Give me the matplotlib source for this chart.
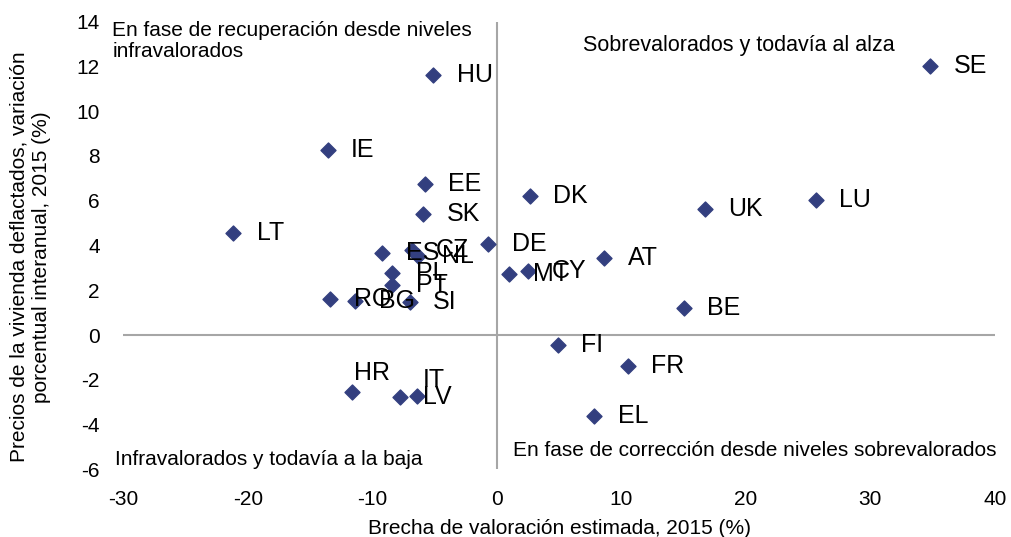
import matplotlib.pyplot as plt

plt.rcParams['font.family'] = ['Liberation Sans', 'DejaVu Sans']
plt.rcParams['axes.unicode_minus'] = False

countries = ['SE', 'HU', 'IE', 'EE', 'DK', 'UK', 'LU', 'SK', 'LT', 'DE', 'ES', 'CZ', 'NL',
             'PL', 'PT', 'RO', 'BG', 'SI', 'MT', 'CY', 'AT', 'BE', 'FI', 'FR', 'EL', 'HR',
             'LV', 'IT']
gap = [34.8, -5.1, -13.6, -5.8, 2.65, 16.7, 25.6, -5.9, -21.2, -0.7, -9.2, -6.8, -6.3,
       -8.4, -8.4, -13.4, -11.4, -7.0, 1.0, 2.5, 8.6, 15.0, 4.9, 10.5, 7.8, -11.6,
       -7.8, -6.4]
prices = [12.0, 11.6, 8.25, 6.77, 6.23, 5.65, 6.05, 5.43, 4.57, 4.08, 3.68, 3.81, 3.54,
          2.78, 2.24, 1.61, 1.52, 1.48, 2.74, 2.87, 3.45, 1.21, -0.45, -1.39, -3.59, -2.56,
          -2.78, -2.74]

# label offsets in points (default: to the right)
offsets = {'HR': (1, 14), 'IT': (4, 12)}

fig = plt.figure(figsize=(10.11, 5.37), dpi=100)
ax = fig.add_axes([0.122, 0.1257, 0.862, 0.834])

ax.axhline(0, color='#a6a6a6', lw=1.5, zorder=1)
ax.axvline(0, color='#a6a6a6', lw=1.5, zorder=1)
ax.scatter(gap, prices, marker='D', s=58, color='#333f7f', zorder=3)

for c, x, y in zip(countries, gap, prices):
    dx, dy = offsets.get(c, (17, 0))
    ax.annotate(c, (x, y), xytext=(dx, dy), textcoords='offset points',
                va='center', ha='left', fontsize=18)

ax.set_xlim(-30, 40)
ax.set_ylim(-6, 14)
ax.set_xticks(range(-30, 41, 10))
ax.set_yticks(range(-6, 15, 2))
for s in ax.spines.values():
    s.set_visible(False)
ax.tick_params(length=0, labelsize=15)
ax.tick_params(axis='x', pad=15)
ax.tick_params(axis='y', pad=17)

ax.set_xlabel('Brecha de valoración estimada, 2015 (%)', fontsize=15, labelpad=7)
ax.set_ylabel('Precios de la vivienda deflactados, variación\nporcentual interanual, 2015 (%)',
              fontsize=15, linespacing=1.2)
ax.yaxis.set_label_coords(-0.0835, 0.475)

ax.text(-30.9, 13.15, 'En fase de recuperación desde niveles\ninfravalorados', fontsize=15,
        va='center', ha='left', linespacing=1.15)
ax.text(6.9, 12.95, 'Sobrevalorados y todavía al alza', fontsize=15.5, va='center')
ax.text(-30.7, -5.55, 'Infravalorados y todavía a la baja', fontsize=15, va='center')
ax.text(1.3, -5.15, 'En fase de corrección desde niveles sobrevalorados', fontsize=15,
        va='center')

fig.savefig('out.png', dpi=100)
